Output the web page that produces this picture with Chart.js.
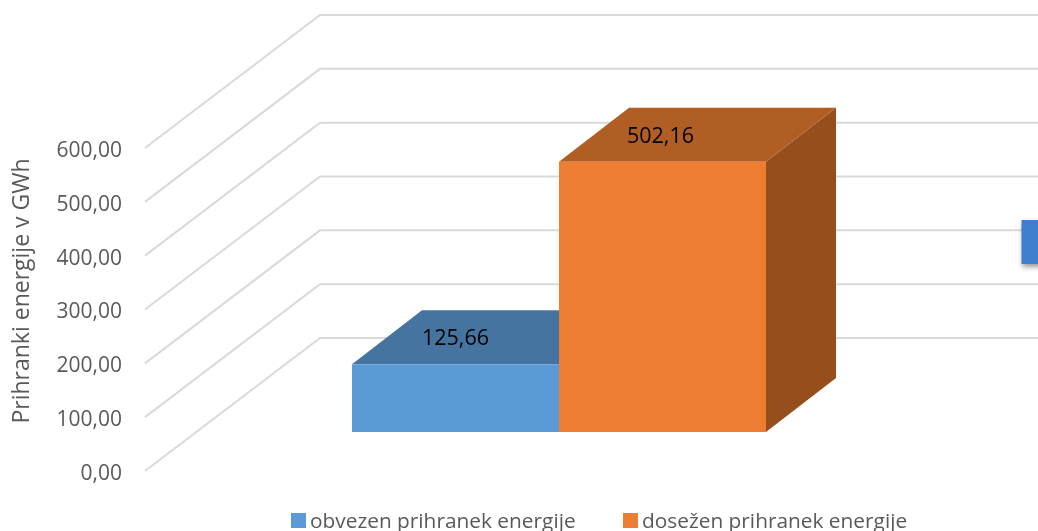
<!DOCTYPE html>
<html><head><meta charset="utf-8">
<style>html,body{margin:0;padding:0;background:#fff;overflow:hidden}#w{width:1038px;height:531px;position:relative}</style>
<script src="https://cdn.jsdelivr.net/npm/chart.js@4"></script>
</head><body><div id="w"><canvas id="c"></canvas></div>
<script>
const categories = [""];
const seriesNames = ["obvezen prihranek energije", "dosežen prihranek energije"];
const obvezen = [125.66];
const dosezen = [502.16];
const tickValues = [0, 100, 200, 300, 400, 500, 600];
const axisTitle = "Prihranki energije v GWh";
const FONT = '"Open Sans"';
const fmt = v => v.toFixed(2).replace('.', ',');

const BACK_DX = 175, BACK_DY = 133;   // wall depth
const BAR_SHIFT = 39;                 // bars sit part-way along the floor
const BAR_DX = 70, BAR_DY = 54;       // bar depth
const AXIS_TEXT_SHIFT = 3;

function poly(ctx, pts, fill) {
  ctx.beginPath();
  pts.forEach((p, i) => i ? ctx.lineTo(p[0], p[1]) : ctx.moveTo(p[0], p[1]));
  ctx.closePath();
  ctx.fillStyle = fill;
  ctx.fill();
}

const scene = {
  id: 'scene',
  beforeDraw(chart) {
    chart.ctx.save();
    chart.ctx.translate(0, AXIS_TEXT_SHIFT);
  },
  beforeDatasetsDraw(chart) {
    const { ctx, chartArea, scales: { y } } = chart;
    ctx.restore();
    ctx.save();
    ctx.strokeStyle = '#D9D9D9';
    ctx.lineWidth = 2;
    tickValues.forEach(v => {
      const py = y.getPixelForValue(v);
      ctx.beginPath();
      ctx.moveTo(chartArea.left, py);
      ctx.lineTo(chartArea.left + BACK_DX, py - BACK_DY);
      ctx.lineTo(chart.width, py - BACK_DY);
      ctx.stroke();
    });
    ctx.restore();
  },
  beforeDatasetDraw(chart, args) {
    const { ctx } = chart;
    ctx.save();
    ctx.translate(0, -BAR_SHIFT);
    const d = chart.data.datasets[args.index];
    // the series to the right stands in front of this one's depth faces
    const next = chart.data.datasets[args.index + 1] ? chart.getDatasetMeta(args.index + 1).data[0] : null;
    args.meta.data.forEach(el => {
      const { x, y, base, width } = el.getProps(['x', 'y', 'base', 'width'], true);
      const l = x - width / 2, r = x + width / 2;
      ctx.save();
      if (next) {
        const n = next.getProps(['x', 'width'], true);
        ctx.beginPath();
        ctx.rect(0, 0, n.x - n.width / 2, chart.height + BAR_SHIFT);
        ctx.clip();
      }
      poly(ctx, [[r, y], [r + BAR_DX, y - BAR_DY], [r + BAR_DX, base - BAR_DY], [r, base]], d.sideColor);
      poly(ctx, [[l, y], [l + BAR_DX, y - BAR_DY], [r + BAR_DX, y - BAR_DY], [r, y]], d.topColor);
      ctx.restore();
    });
  },
  afterDatasetDraw(chart) {
    chart.ctx.restore();
  },
  afterDatasetsDraw(chart) {
    const { ctx } = chart;
    ctx.save();
    // value labels
    ctx.fillStyle = '#000';
    ctx.font = '21.5px ' + FONT;
    ctx.textAlign = 'center';
    ctx.textBaseline = 'middle';
    chart.data.datasets.forEach((d, i) => {
      chart.getDatasetMeta(i).data.forEach((el, j) => {
        const { x, y } = el.getProps(['x', 'y'], true);
        ctx.fillText(fmt(d.data[j]), x - (i ? 2 : 0), y - BAR_SHIFT - 25);
      });
    });
    // partly visible blue box at the right edge
    ctx.shadowColor = 'rgba(0,0,0,0.4)';
    ctx.shadowBlur = 5;
    ctx.shadowOffsetY = 3;
    ctx.fillStyle = '#3F7FCC';
    ctx.fillRect(1021.5, 220, 30, 44);
    ctx.restore();
    // axis title
    ctx.save();
    ctx.translate(22, 291);
    ctx.rotate(-Math.PI / 2);
    ctx.font = '23px ' + FONT;
    ctx.fillStyle = '#595959';
    ctx.textAlign = 'center';
    ctx.textBaseline = 'middle';
    ctx.fillText(axisTitle, 0, 0);
    ctx.restore();
    // legend
    ctx.save();
    ctx.font = '20.85px ' + FONT;
    ctx.textAlign = 'left';
    ctx.textBaseline = 'alphabetic';
    [[291, 310], [623, 642]].forEach((p, i) => {
      ctx.fillStyle = chart.data.datasets[i].backgroundColor;
      ctx.fillRect(p[0], 513, 15, 15);
      ctx.fillStyle = '#595959';
      ctx.fillText(seriesNames[i], p[1], 528);
    });
    ctx.restore();
  }
};

new Chart(document.getElementById('c'), {
  type: 'bar',
  data: {
    labels: categories,
    datasets: [
      { label: seriesNames[0], data: obvezen, backgroundColor: '#5B9BD5', topColor: '#44749F', sideColor: '#35597A', clip: false },
      { label: seriesNames[1], data: dosezen, backgroundColor: '#ED7D31', topColor: '#B15E24', sideColor: '#974E1D', clip: false }
    ]
  },
  plugins: [scene],
  options: {
    responsive: true,
    maintainAspectRatio: false,
    animation: false,
    layout: { padding: { top: 148, bottom: 60, right: 65, left: 0 } },
    categoryPercentage: 0.5,
    barPercentage: 1,
    plugins: { legend: { display: false }, tooltip: { enabled: false } },
    scales: {
      x: { display: false },
      y: {
        min: 0, max: 600,
        afterFit(s) { s.width = 145; },
        afterBuildTicks(s) { s.ticks = tickValues.map(v => ({ value: v })); },
        grid: { display: false, drawTicks: false },
        border: { display: false },
        ticks: {
          padding: 23,
          color: '#595959',
          font: { family: FONT, size: 21 },
          callback: v => fmt(v)
        }
      }
    }
  }
});
</script></body></html>
